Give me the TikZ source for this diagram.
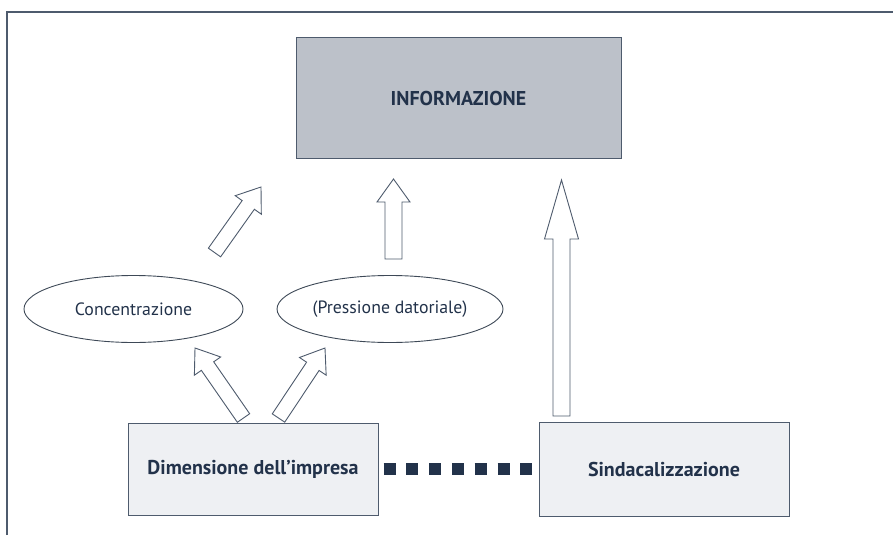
\documentclass[tikz,border=0pt]{standalone}
\usepackage{fontspec}
\setmainfont{PT Sans}
\usetikzlibrary{shapes.geometric,calc}
\definecolor{inkblue}{HTML}{22324A}
\definecolor{edgegray}{HTML}{4E5B6D}
\definecolor{boxgray}{HTML}{BCC1C9}
\definecolor{boxlight}{HTML}{EEF0F3}
\newcommand{\blockarrow}[5]{%
  \coordinate (hb) at ($(#2)!#5!(#1)$);
  \draw[barrow] ($(#1)!#3!90:(#2)$) -- ($(hb)!#3!-90:(#1)$) -- ($(hb)!#4!-90:(#1)$) -- (#2)
    -- ($(hb)!#4!90:(#1)$) -- ($(hb)!#3!90:(#1)$) -- ($(#1)!#3!-90:(#2)$) -- cycle;}

\begin{document}
\begin{tikzpicture}[x=1pt, y=-1pt, every node/.style={font=\fontsize{17.8}{20}\selectfont, text=inkblue},
  box/.style={draw=edgegray, line width=1pt, inner sep=0pt, font=\fontsize{20}{22}\selectfont\bfseries},
  oval/.style={ellipse, draw=edgegray!80!black, line width=0.9pt, inner sep=0pt},
  barrow/.style={draw=edgegray, fill=white, line width=0.9pt, line join=miter},
  frame/.style={draw=edgegray, line width=1.3pt}]
	\useasboundingbox (0,0) rectangle (893,535);
	\draw[frame] (7,535) -- (7,12) -- (893,12);
	\node[box, fill=boxgray, minimum width=325pt, minimum height=120pt] (info) at (458.5,98) {INFORMAZIONE};
	\node[oval, minimum width=219pt, minimum height=67pt] (conc) at (133.5,309) {Concentrazione};
	\node[oval, minimum width=226pt, minimum height=67pt] (press) at (390,309) {(Pressione datoriale)};
	\node[box, fill=boxlight, minimum width=250pt, minimum height=92pt] (dim) at (253,469) {Dimensione dell’impresa};
	\node[box, fill=boxlight, minimum width=250pt, minimum height=94pt] (sind) at (664,469) {Sindacalizzazione};
	\coordinate (t1) at (214.5,252.5); \coordinate (p1) at (261,187);
	\coordinate (t2) at (393.5,259);   \coordinate (p2) at (393.5,179);
	\coordinate (t3) at (243.5,418);   \coordinate (p3) at (195,348);
	\coordinate (t4) at (278.5,418);   \coordinate (p4) at (325,348);
	\coordinate (t5) at (561.5,416);   \coordinate (p5) at (561.5,180);
	\blockarrow{t1}{p1}{7.5pt}{16pt}{22pt}
	\blockarrow{t2}{p2}{8.5pt}{16.5pt}{23pt}
	\blockarrow{t3}{p3}{7.5pt}{16pt}{22pt}
	\blockarrow{t4}{p4}{7.5pt}{16pt}{22pt}
	\blockarrow{t5}{p5}{8.5pt}{17pt}{59pt}
	\draw[inkblue, line width=12pt, dash pattern=on 12pt off 10.8pt] ([xshift=5pt]dim.east) -- ([xshift=-7pt]sind.west);
\end{tikzpicture}
\end{document}
